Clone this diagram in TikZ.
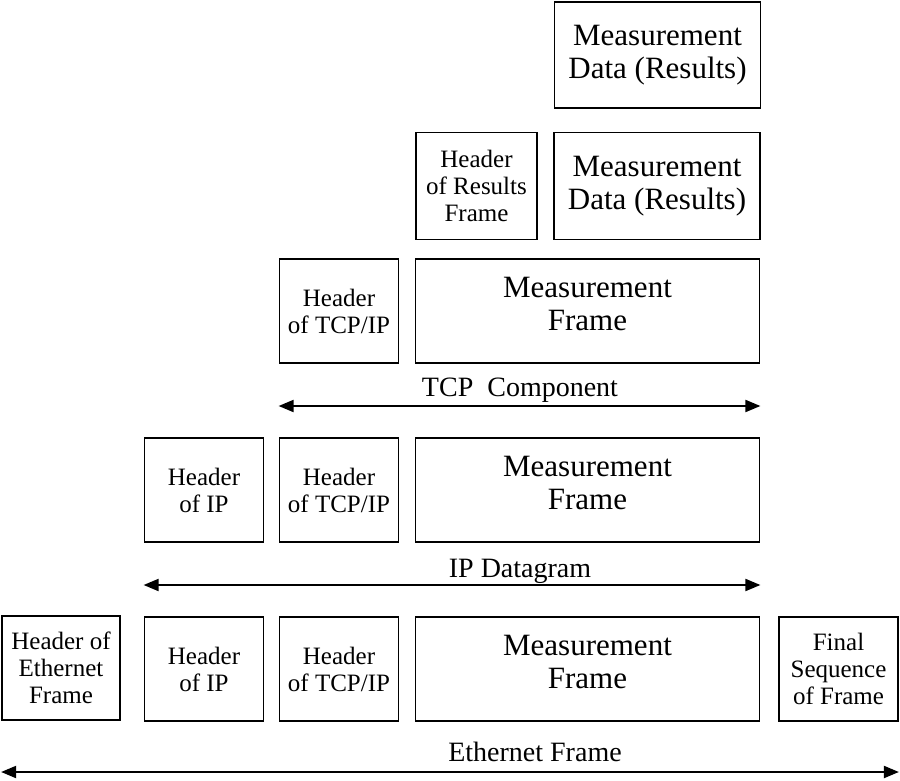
\documentclass[tikz,border=0pt]{standalone}
\usepackage{fontspec}
\setmainfont{Liberation Serif}
\usetikzlibrary{arrows.meta}
\begin{document}
\begin{tikzpicture}[x=1pt,y=-1pt,
  box/.style={draw, line width=1.8pt, inner sep=0pt, align=center},
  hdr/.style={box, font=\fontsize{25}{27}\selectfont},
  big/.style={box, font=\fontsize{31}{33}\selectfont},
  lbl/.style={font=\fontsize{28}{30}\selectfont, inner sep=0pt},
  dim/.style={line width=2pt, {Triangle[length=15pt,width=12pt]}-{Triangle[length=15pt,width=12pt]}}]
\useasboundingbox (0,0) rectangle (900,781);
% row 1
\node[big, minimum width=206pt, minimum height=106pt] (d1) at (657.5,55) {Measurement\\Data (Results)};
% row 2
\node[hdr, minimum width=121pt, minimum height=107pt] (hr) at (476.5,186) {Header\\of Results\\Frame};
\node[big, minimum width=206pt, minimum height=107pt] (d2) at (657,186) {Measurement\\Data (Results)};
% row 3
\node[hdr, minimum width=119pt, minimum height=104pt] (t3) at (339,311) {Header\\of TCP/IP};
\node[big, minimum width=344pt, minimum height=104pt, text depth=14pt] (m3) at (587.5,311) {Measurement\\Frame};
\draw[dim] (t3.west |- 0,406) coordinate (a1) -- (m3.east |- 0,406) coordinate (a2);
\node[lbl] (l1) at (520,390) {TCP\ \ Component};
% row 4
\node[hdr, minimum width=119pt, minimum height=104pt] (i4) at (204,490) {Header\\of IP};
\node[hdr, minimum width=119pt, minimum height=104pt] (t4) at (339,490) {Header\\of TCP/IP};
\node[big, minimum width=344pt, minimum height=104pt, text depth=14pt] (m4) at (587.5,490) {Measurement\\Frame};
\draw[dim] (i4.west |- 0,585) coordinate (b1) -- (m4.east |- 0,585) coordinate (b2);
\node[lbl] (l2) at (520,571) {IP Datagram};
% row 5
\node[hdr, minimum width=118pt, minimum height=104pt] (e5) at (61,668) {Header of\\Ethernet\\Frame};
\node[hdr, minimum width=119pt, minimum height=104pt] (i5) at (204,669) {Header\\of IP};
\node[hdr, minimum width=119pt, minimum height=104pt] (t5) at (339,669) {Header\\of TCP/IP};
\node[big, minimum width=344pt, minimum height=104pt, text depth=14pt] (m5) at (587.5,669) {Measurement\\Frame};
\node[hdr, minimum width=119pt, minimum height=104pt] (f5) at (838.5,669) {Final\\Sequence\\of Frame};
\draw[dim] (e5.west |- 0,772) coordinate (c1) -- (f5.east |- 0,772) coordinate (c2);
\node[lbl] (l3) at (535,752) {Ethernet Frame};
\end{tikzpicture}
\end{document}
